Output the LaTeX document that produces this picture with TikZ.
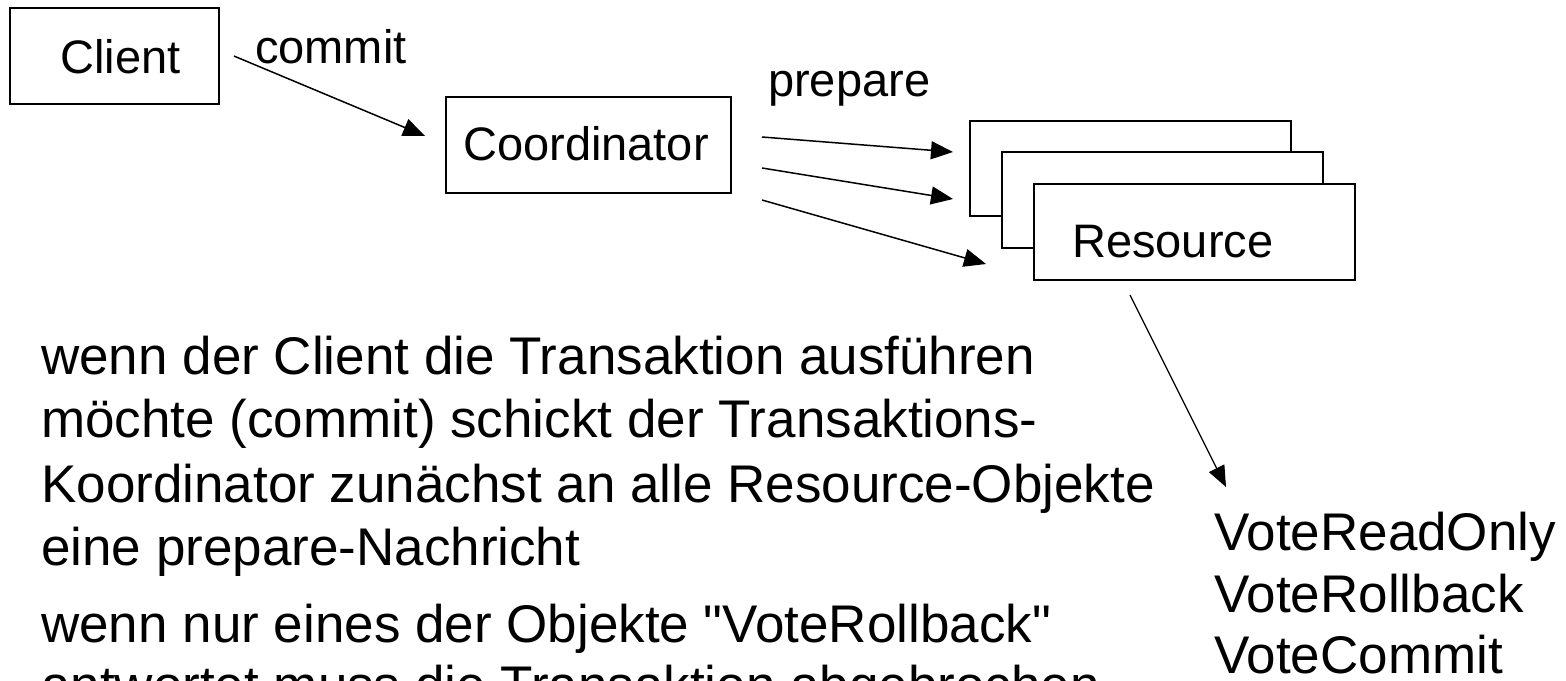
\documentclass[tikz,border=0pt]{standalone}
\usepackage{fontspec}
\setmainfont{Liberation Sans}
\usetikzlibrary{arrows.meta,calc}

\tikzset{
  box/.style={draw=black, line width=1.8pt, fill=white, inner sep=0pt},
  lbl/.style={anchor=base west, inner sep=0pt, font=\fontsize{47}{56}\selectfont},
  body/.style={anchor=base west, inner sep=0pt, font=\fontsize{53}{62}\selectfont},
  msg/.style={line width=1.5pt, -{Triangle[length=22pt,width=18pt]}},
  reply/.style={line width=1.2pt, -{Triangle[length=21pt,width=17pt]}}
}

\begin{document}
\begin{tikzpicture}[x=1pt, y=-1pt]
\useasboundingbox (0,0) rectangle (1566,680);
\clip (0,0) rectangle (1566,680);

% participants
\node[box, minimum width=209pt, minimum height=96pt] (client) at (114.5,56) {};
\node[lbl] (clientlbl) at (60,73) {Client};

\node[box, minimum width=285pt, minimum height=96pt] (coord) at (588.5,145) {};
\node[lbl] (coordlbl) at (463,160) {Coordinator};

% stacked resource objects
\node[box, minimum width=321pt, minimum height=95pt] (res1) at (1130.5,168.5) {};
\node[box, minimum width=321pt, minimum height=96pt] (res2) at (1162.5,200) {};
\node[box, minimum width=321pt, minimum height=96pt] (res3) at (1194.5,232) {};
\node[lbl] (reslbl) at (1072,257) {Resource};

% message labels
\node[lbl] (commitlbl) at (255,63) {commit};
\node[lbl] (preparelbl) at (768,96) {prepare};

% connector end points
\coordinate (cs) at ($(client.east)+(14,0)$);
\coordinate (ce) at ($(coord.west)+(-20,-9)$);
\coordinate (p1s) at (762,137);
\coordinate (p1e) at (953,152);
\coordinate (p2s) at (762,168);
\coordinate (p2e) at (953,199);
\coordinate (p3s) at (762,200);
\coordinate (p3e) at (986,264);
\coordinate (vs) at (1130,295);
\coordinate (ve) at (1226,487);

\draw[msg] (cs) -- (ce);
\draw[msg] (p1s) -- (p1e);
\draw[msg] (p2s) -- (p2e);
\draw[msg] (p3s) -- (p3e);
\draw[reply] (vs) -- (ve);

% possible votes
\node[body] (v1) at (1214,550) {VoteReadOnly};
\node[body] (v2) at (1214,612) {VoteRollback};
\node[body] (v3) at (1214,673) {VoteCommit};

% explanation
\node[body] (t1) at (41,374) {wenn der Client die Transaktion ausführen};
\node[body] (t2) at (41,437) {möchte (commit) schickt der Transaktions-};
\node[body] (t3) at (41,502) {Koordinator zunächst an alle Resource-Objekte};
\node[body] (t4) at (41,565) {eine prepare-Nachricht};
\node[body] (t5) at (41,642) {wenn nur eines der Objekte \textquotedbl VoteRollback\textquotedbl};
\node[body] (t6) at (41,703) {antwortet muss die Transaktion abgebrochen};
\end{tikzpicture}
\end{document}
